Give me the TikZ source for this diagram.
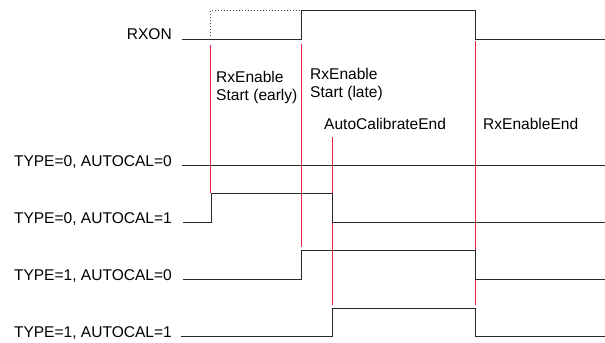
\documentclass[tikz,border=0pt]{standalone}
\usepackage{fontspec}
\setmainfont{Liberation Sans}
\definecolor{markred}{RGB}{240,30,70}
\definecolor{wavegray}{RGB}{40,40,40}

\begin{document}
\begin{tikzpicture}[x = 1bp, y = -1bp,
        wave/.style = {line width = 1.7bp, draw = wavegray},
        marker/.style = {line width = 1.5bp, draw = markred},
        siglabel/.style = {anchor = base east, inner sep = 0pt, font = \fontsize{15.6}{18}\selectfont},
        eventlabel/.style = {anchor = north west, inner sep = 0pt, align = left, font = \fontsize{15.6}{18.5}\selectfont}]
        \useasboundingbox (0, 0) rectangle (605, 342);

        % Signal names
        \node [siglabel] (rxon) at (172, 39) {RXON};
        \node [siglabel] (t0a0) at (172, 166) {TYPE=0, AUTOCAL=0};
        \node [siglabel] (t0a1) at (172, 223) {TYPE=0, AUTOCAL=1};
        \node [siglabel] (t1a0) at (172, 280) {TYPE=1, AUTOCAL=0};
        \node [siglabel] (t1a1) at (172, 337) {TYPE=1, AUTOCAL=1};

        % Event names
        \node [eventlabel] (early) at (216, 71) {RxEnable\\Start (early)};
        \node [eventlabel] (late) at (310, 68) {RxEnable\\Start (late)};
        \node [eventlabel] (calend) at (324, 118) {AutoCalibrateEnd};
        \node [eventlabel] (rxend) at (483, 118) {RxEnableEnd};

        % Event markers
        \coordinate (early top) at (210.5, 45);
        \coordinate (early bottom) at (210.5, 193);
        \coordinate (late top) at (301.5, 44);
        \coordinate (late bottom) at (301.5, 247);
        \coordinate (calend top) at (332.5, 137);
        \coordinate (calend bottom) at (332.5, 305);
        \coordinate (rxend top) at (475.5, 41);
        \coordinate (rxend bottom) at (475.5, 305);
        \draw [marker] (early top) -- (early bottom);
        \draw [marker] (late top) -- (late bottom);
        \draw [marker] (calend top) -- (calend bottom);
        \draw [marker] (rxend top) -- (rxend bottom);

        % Waveforms
        \draw [dotted, line width = 1bp, black!70] (210.5, 36) -- (210.5, 10.5) -- (301.5, 10.5);
        \draw [wave] (182, 39.5) -- (301.5, 39.5) -- (301.5, 10.5) -- (475.5, 10.5) -- (475.5, 39.5) -- (605, 39.5);
        \draw [wave] (182, 165.5) -- (605, 165.5);
        \draw [wave] (183, 222.5) -- (211.5, 222.5) -- (211.5, 193.5) -- (332.5, 193.5) -- (332.5, 222.5) -- (605, 222.5);
        \draw [wave] (183, 279.5) -- (301.5, 279.5) -- (301.5, 250.5) -- (475.5, 250.5) -- (475.5, 279.5) -- (605, 279.5);
        \draw [wave] (181, 336.5) -- (332.5, 336.5) -- (332.5, 308.5) -- (475.5, 308.5) -- (475.5, 336.5) -- (605, 336.5);

    \end{tikzpicture}
\end{document}
